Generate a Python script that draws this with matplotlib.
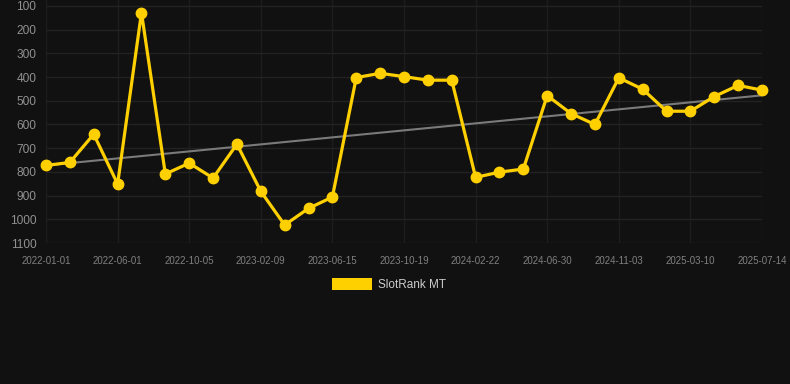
import matplotlib
matplotlib.use("Agg")
import matplotlib.pyplot as plt
from matplotlib.patches import Rectangle
import numpy as np

plt.rcParams["font.family"] = ["Liberation Sans", "DejaVu Sans"]

tick_labels = ["2022-01-01", "2022-06-01", "2022-10-05", "2023-02-09", "2023-06-15",
               "2023-10-19", "2024-02-22", "2024-06-30", "2024-11-03", "2025-03-10",
               "2025-07-14"]
ranks = [773, 760, 641, 851, 128, 809, 763, 826, 683, 882, 1024, 954, 906, 402, 384,
         398, 413, 413, 823, 801, 788, 478, 554, 600, 403, 451, 544, 544, 482, 435, 455]
series_name = "SlotRank MT"
y_ticks = [100, 200, 300, 400, 500, 600, 700, 800, 900, 1000, 1100]

W, H = 790, 384
fig = plt.figure(figsize=(W / 100, H / 100), dpi=100)
fig.patch.set_facecolor("#111111")
left, right, top, bottom = 46, 762, 0, 243
ax = fig.add_axes([left / W, 1 - bottom / H, (right - left) / W, (bottom - top) / H])
ax.set_facecolor("#111111")

x = np.arange(len(ranks))
coef = np.polyfit(x, ranks, 1)
trend = np.polyval(coef, x)
ax.plot(x, trend, color="#7a7a7a", lw=1.5, zorder=2)
ax.plot(x, ranks, color="#FFD000", lw=2.3, marker="o", markersize=7.5,
        markerfacecolor="#FFD000", markeredgecolor="#FFD000", zorder=3, clip_on=False)

ax.set_xlim(0, len(ranks) - 1)
ax.set_ylim(1100, 100 - 6 / 23.73 * 100)
ax.set_yticks(y_ticks)
ax.set_yticklabels([str(v) for v in y_ticks])
ax.set_xticks(x[::3])
ax.set_xticklabels(tick_labels)
ax.grid(True, axis="y", color="#222222", lw=1.0)
ax.grid(True, axis="x", color="#1d1d1d", lw=1.0)
for s in ax.spines.values():
    s.set_visible(False)
ax.tick_params(axis="y", colors="#909090", labelsize=8.6, length=0, pad=7)
ax.tick_params(axis="x", colors="#808080", labelsize=7.0, length=0, pad=9.5)

fig.patches.append(Rectangle((332 / W, 1 - 290 / H), 40 / W, 12 / H,
                             transform=fig.transFigure, facecolor="#FFD000",
                             edgecolor="none"))
fig.text(378 / W, 1 - 284.5 / H, series_name, color="#cccccc", fontsize=8.5,
         va="center", ha="left")

fig.savefig("out.png", dpi=100, facecolor=fig.get_facecolor())
